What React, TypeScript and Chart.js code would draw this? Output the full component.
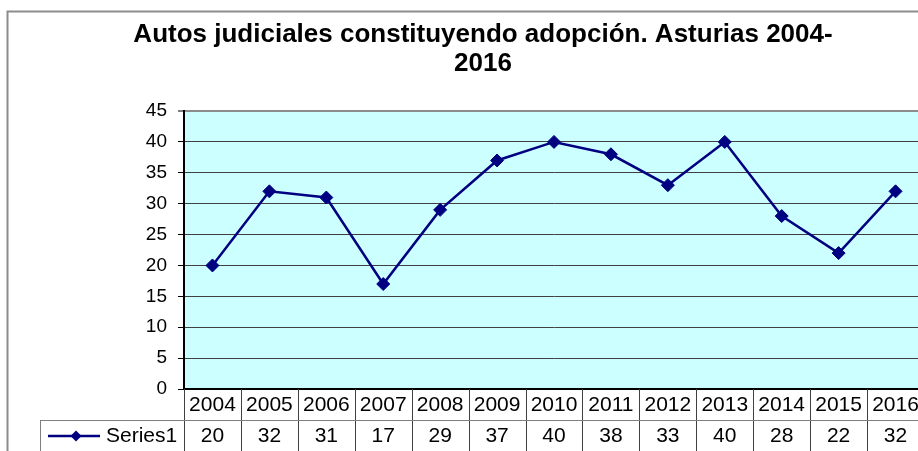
import React, { useEffect, useRef } from 'react';
import { Chart, registerables } from 'chart.js';

Chart.register(...registerables);

const titleLines = ['Autos judiciales constituyendo adopción. Asturias 2004-', '2016'];
const years = ['2004', '2005', '2006', '2007', '2008', '2009', '2010', '2011', '2012', '2013', '2014', '2015', '2016'];
const values = [20, 32, 31, 17, 29, 37, 40, 38, 33, 40, 28, 22, 32];
const seriesName = 'Series1';
const yMin = 0;
const yMax = 45;
const yStep = 5;

const FONT = "'Liberation Sans', Arial, sans-serif";
const NAVY = '#000080';
const W = 966;
const H = 470;

const backgroundPlugin = {
  id: 'bgPlugin',
  beforeDraw(chart: any) {
    const ctx = chart.ctx;
    const { left, top, right, bottom } = chart.chartArea;
    ctx.save();
    ctx.fillStyle = '#ffffff';
    ctx.fillRect(0, 0, chart.width, chart.height);
    ctx.strokeStyle = '#8c8c8c';
    ctx.lineWidth = 2;
    ctx.strokeRect(7.5, 11.5, chart.width - 15, chart.height + 20);
    ctx.fillStyle = '#CCFFFF';
    ctx.fillRect(left, top, right - left, bottom - top);
    ctx.restore();
  },
};

const tablePlugin = {
  id: 'dataTable',
  afterDraw(chart: any) {
    const ctx = chart.ctx;
    const { left, right, bottom } = chart.chartArea;
    const xs = chart.scales.x;
    const n = years.length;
    const colW = (right - left) / n;
    const row1Top = bottom;
    const row1Bot = bottom + 31;
    const rowEnd = chart.height;
    const legendLeft = 40;
    ctx.save();
    ctx.strokeStyle = '#404040';
    ctx.lineWidth = 1;
    for (let k = 0; k <= n; k++) {
      const x = Math.round(left + k * colW) + 0.5;
      ctx.beginPath();
      ctx.moveTo(x, row1Top);
      ctx.lineTo(x, rowEnd);
      ctx.stroke();
    }
    ctx.strokeStyle = '#808080';
    ctx.beginPath();
    ctx.moveTo(legendLeft, row1Bot + 0.5);
    ctx.lineTo(right, row1Bot + 0.5);
    ctx.moveTo(legendLeft + 0.5, row1Bot);
    ctx.lineTo(legendLeft + 0.5, rowEnd);
    ctx.stroke();
    ctx.fillStyle = '#000';
    ctx.font = `21px ${FONT}`;
    ctx.textAlign = 'center';
    ctx.textBaseline = 'middle';
    for (let i = 0; i < n; i++) {
      const cx = xs.getPixelForValue(i);
      ctx.fillText(years[i], cx, row1Top + 16);
      ctx.fillText(String(values[i]), cx, row1Bot + 16);
    }
    const ly = row1Bot + 16;
    ctx.strokeStyle = NAVY;
    ctx.lineWidth = 2.5;
    ctx.beginPath();
    ctx.moveTo(48, ly);
    ctx.lineTo(100, ly);
    ctx.stroke();
    ctx.fillStyle = NAVY;
    const r = 5.5;
    ctx.beginPath();
    ctx.moveTo(76 - r, ly);
    ctx.lineTo(76, ly - r);
    ctx.lineTo(76 + r, ly);
    ctx.lineTo(76, ly + r);
    ctx.closePath();
    ctx.fill();
    ctx.fillStyle = '#000';
    ctx.textAlign = 'left';
    ctx.fillText(seriesName, 106, ly);
    ctx.restore();
  },
};

export default function App() {
  const ref = useRef<HTMLCanvasElement | null>(null);
  useEffect(() => {
    if (!ref.current) return;
    const chart = new Chart(ref.current, {
      type: 'line',
      data: {
        labels: years,
        datasets: [
          {
            label: seriesName,
            data: values,
            borderColor: NAVY,
            backgroundColor: NAVY,
            borderWidth: 2.5,
            pointStyle: 'rectRot',
            pointRadius: 6.5,
            pointBackgroundColor: NAVY,
            pointBorderColor: NAVY,
            pointBorderWidth: 1,
            tension: 0,
            yAxisID: 'y',
          },
        ],
      },
      plugins: [backgroundPlugin, tablePlugin],
      options: {
        responsive: false,
        animation: false,
        layout: { padding: 0 },
        plugins: {
          legend: { display: false },
          tooltip: { enabled: false },
          title: {
            display: true,
            text: titleLines,
            color: '#000',
            font: { family: FONT, size: 26, weight: 'bold', lineHeight: 1.12 },
            padding: { top: 20, bottom: 32.8 },
          },
        },
        scales: {
          x: {
            type: 'category',
            offset: true,
            grid: { display: false },
            border: { display: true, color: '#000', width: 2 },
            ticks: { display: false },
            afterFit(s: any) {
              s.height = H - 389;
            },
          },
          y: {
            min: yMin,
            max: yMax,
            ticks: {
              stepSize: yStep,
              color: '#000',
              font: { family: FONT, size: 19 },
              padding: 11,
            },
            grid: {
              color: (c: any) => (c.tick && c.tick.value === yMax ? '#8c8c8c' : '#404040'),
              lineWidth: (c: any) => (c.tick && c.tick.value === yMax ? 2 : 1),
              drawTicks: true,
              tickLength: 6,
              tickColor: '#000',
              tickWidth: 1,
            },
            border: { display: true, color: '#000', width: 2 },
            afterFit(s: any) {
              s.width = 184;
            },
          },
          yR: {
            position: 'right',
            display: true,
            grid: { display: false },
            border: { display: false },
            ticks: { display: false },
            afterFit(s: any) {
              s.width = 42;
            },
          },
        },
      } as any,
    });
    return () => chart.destroy();
  }, []);
  return (
    <div style={{ position: 'fixed', left: 0, top: 0, width: 918, height: 451, overflow: 'hidden', background: '#fff' }}>
      <canvas ref={ref} width={W} height={H} style={{ width: W, height: H, display: 'block' }} />
    </div>
  );
}
